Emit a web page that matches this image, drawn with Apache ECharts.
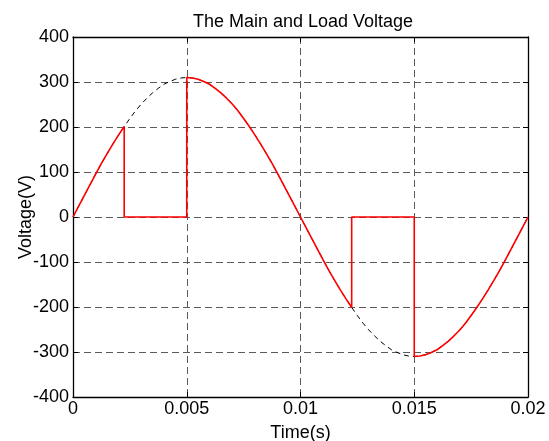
<!DOCTYPE html>
<html>
<head>
<meta charset="utf-8">
<script src="https://cdn.jsdelivr.net/npm/echarts@6/dist/echarts.min.js"></script>
<style>
  html, body { margin: 0; padding: 0; background: #fff; }
  #main { width: 549px; height: 441px; }
</style>
</head>
<body>
<div id="main"></div>
<script>
// main voltage (dashed black), read every 0.25 ms
const mainTime = [
    0, 0.00025, 0.0005, 0.00075, 0.001, 0.00125, 0.0015, 0.00175, 0.002, 0.00225,
    0.0025, 0.00275, 0.003, 0.00325, 0.0035, 0.00375, 0.004, 0.00425, 0.0045, 0.00475,
    0.005, 0.00525, 0.0055, 0.00575, 0.006, 0.00625, 0.0065, 0.00675, 0.007, 0.00725,
    0.0075, 0.00775, 0.008, 0.00825, 0.0085, 0.00875, 0.009, 0.00925, 0.0095, 0.00975,
    0.01, 0.01025, 0.0105, 0.01075, 0.011, 0.01125, 0.0115, 0.01175, 0.012, 0.01225,
    0.0125, 0.01275, 0.013, 0.01325, 0.0135, 0.01375, 0.014, 0.01425, 0.0145, 0.01475,
    0.015, 0.01525, 0.0155, 0.01575, 0.016, 0.01625, 0.0165, 0.01675, 0.017, 0.01725,
    0.0175, 0.01775, 0.018, 0.01825, 0.0185, 0.01875, 0.019, 0.01925, 0.0195, 0.01975, 0.02
];
const mainVoltage = [
    0, 24, 48, 72, 96, 119, 141, 162, 182, 201,
    219, 236, 251, 264, 276, 286, 295, 301, 306, 309,
    310, 309, 306, 301, 295, 286, 276, 264, 251, 236,
    219, 201, 182, 162, 141, 119, 96, 72, 48, 24,
    0, -24, -48, -72, -96, -119, -141, -162, -182, -201,
    -219, -236, -251, -264, -276, -286, -295, -301, -306, -309,
    -310, -309, -306, -301, -295, -286, -276, -264, -251, -236,
    -219, -201, -182, -162, -141, -119, -96, -72, -48, -24, 0
];

// load voltage (red)
const loadTime = [
    0, 0.00025, 0.0005, 0.00075, 0.001, 0.00125, 0.0015, 0.00175, 0.002, 0.00225,
    0.00225, 0.005,
    0.005, 0.00525, 0.0055, 0.00575, 0.006, 0.00625, 0.0065, 0.00675, 0.007, 0.00725,
    0.0075, 0.00775, 0.008, 0.00825, 0.0085, 0.00875, 0.009, 0.00925, 0.0095, 0.00975,
    0.01, 0.01025, 0.0105, 0.01075, 0.011, 0.01125, 0.0115, 0.01175, 0.012, 0.01225,
    0.01225, 0.015,
    0.015, 0.01525, 0.0155, 0.01575, 0.016, 0.01625, 0.0165, 0.01675, 0.017, 0.01725,
    0.0175, 0.01775, 0.018, 0.01825, 0.0185, 0.01875, 0.019, 0.01925, 0.0195, 0.01975, 0.02
];
const loadVoltage = [
    0, 24, 48, 72, 96, 119, 141, 162, 182, 201,
    0, 0,
    310, 309, 306, 301, 295, 286, 276, 264, 251, 236,
    219, 201, 182, 162, 141, 119, 96, 72, 48, 24,
    0, -24, -48, -72, -96, -119, -141, -162, -182, -201,
    0, 0,
    -310, -309, -306, -301, -295, -286, -276, -264, -251, -236,
    -219, -201, -182, -162, -141, -119, -96, -72, -48, -24, 0
];

const xTicks = [0, 0.005, 0.01, 0.015, 0.02];
const yTicks = [-400, -300, -200, -100, 0, 100, 200, 300, 400];

const FONT = 'Liberation Sans, Arial, sans-serif';
const FS = 18;

const chart = echarts.init(document.getElementById('main'));

const gridLine = { show: true, lineStyle: { color: '#5a5a5a', width: 1, type: [7, 4] } };
const tick = { show: true, inside: true, length: 5, lineStyle: { color: '#000' } };
const axisLine = { show: true, onZero: false, lineStyle: { color: '#000', width: 1.3 } };

chart.setOption({
    animation: false,
    backgroundColor: '#fff',
    title: {
        text: 'The Main and Load Voltage',
        left: 298,
        textAlign: 'center',
        top: 8,
        textStyle: { fontFamily: FONT, fontSize: FS, fontWeight: 'normal', color: '#000' }
    },
    grid: { left: 73, right: 21, top: 37, bottom: 44, outerBoundsMode: 'none', containLabel: false },
    xAxis: [{
        type: 'value',
        min: xTicks[0],
        max: xTicks[xTicks.length - 1],
        interval: 0.005,
        name: 'Time(s)',
        nameLocation: 'middle',
        nameGap: 27,
        nameMoveOverlap: false,
        nameTextStyle: { fontFamily: FONT, fontSize: FS, color: '#000' },
        axisLine: axisLine,
        axisTick: tick,
        splitLine: gridLine,
        axisLabel: {
            fontFamily: FONT, fontSize: FS, color: '#000', margin: 3,
            formatter: v => String(+v.toFixed(4))
        }
    }, {
        type: 'value',
        position: 'top',
        min: xTicks[0],
        max: xTicks[xTicks.length - 1],
        interval: 0.005,
        axisLine: axisLine,
        axisTick: tick,
        splitLine: { show: false },
        axisLabel: { show: false }
    }],
    yAxis: [{
        type: 'value',
        min: yTicks[0],
        max: yTicks[yTicks.length - 1],
        interval: 100,
        name: 'Voltage(V)',
        nameLocation: 'middle',
        nameGap: 38,
        nameMoveOverlap: false,
        nameTextStyle: { fontFamily: FONT, fontSize: FS, color: '#000' },
        axisLine: axisLine,
        axisTick: tick,
        splitLine: gridLine,
        axisLabel: { fontFamily: FONT, fontSize: FS, color: '#000', margin: 4 }
    }, {
        type: 'value',
        position: 'right',
        min: yTicks[0],
        max: yTicks[yTicks.length - 1],
        interval: 100,
        axisLine: axisLine,
        axisTick: tick,
        splitLine: { show: false },
        axisLabel: { show: false }
    }],
    series: [{
        name: 'Main',
        type: 'line',
        data: mainTime.map((t, i) => [t, mainVoltage[i]]),
        showSymbol: false,
        lineStyle: { color: '#000', width: 1, type: [5, 4] },
        z: 2
    }, {
        name: 'Load',
        type: 'line',
        data: loadTime.map((t, i) => [t, loadVoltage[i]]),
        showSymbol: false,
        lineStyle: { color: '#ff0000', width: 1.6 },
        z: 3
    }]
});
</script>
</body>
</html>
